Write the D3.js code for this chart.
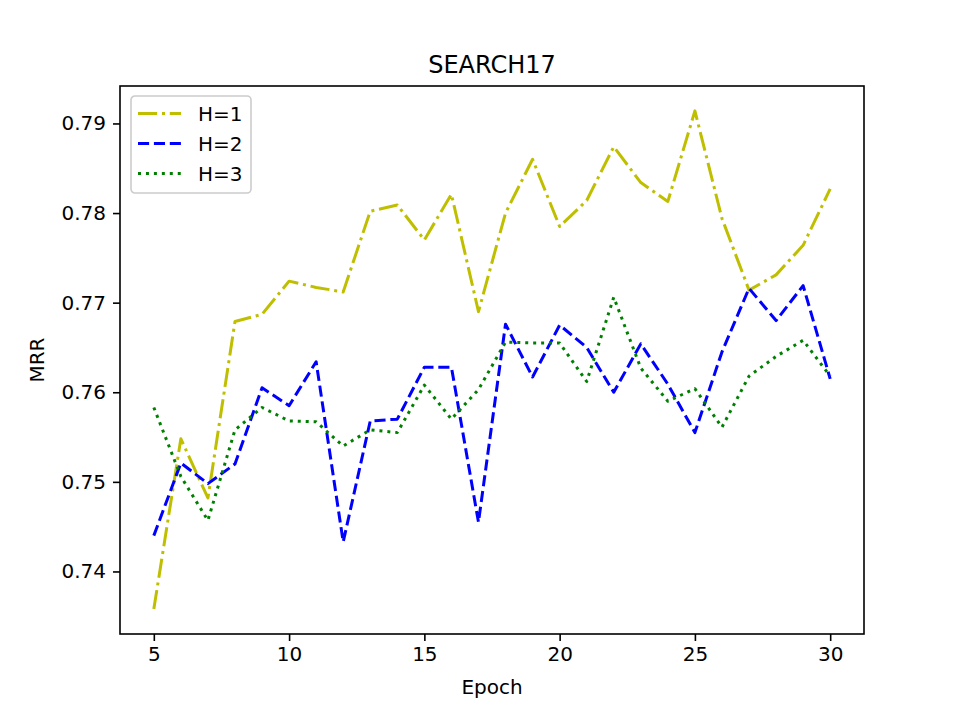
<!DOCTYPE html>
<html lang="en">

<head>
    <meta charset="UTF-8">
    <style type="text/css">
        body {
            margin: 0;
            background: white;
        }

        svg text {
            font-family: "DejaVu Sans", sans-serif;
            fill: black;
        }

        .axis path {
            display: none;
        }

        .axis line {
            stroke: black;
            stroke-width: 1.6px;
        }

        .axis text {
            font-size: 20px;
        }

        .series {
            fill: none;
            stroke-width: 3px;
            stroke-linecap: butt;
            stroke-linejoin: round;
        }
    </style>
</head>

<body>
    <div class="main"></div>

    <script src="https://cdn.jsdelivr.net/npm/d3@7"></script>
    <script type="text/javascript">

        // values
        var epochs = [5, 6, 7, 8, 9, 10, 11, 12, 13, 14, 15, 16, 17, 18, 19, 20, 21, 22, 23, 24, 25, 26, 27, 28, 29, 30];

        var h1 = [0.7358, 0.7548, 0.7482, 0.7679, 0.7687, 0.7724, 0.7717, 0.7712, 0.7802, 0.7809, 0.7770, 0.7821, 0.7690,
            0.7800, 0.7860, 0.7785, 0.7814, 0.7874, 0.7834, 0.7813, 0.7914, 0.7794, 0.7714, 0.7731, 0.7764, 0.7827];
        var h2 = [0.7440, 0.7521, 0.7498, 0.7520, 0.7605, 0.7585, 0.7634, 0.7433, 0.7568, 0.7570, 0.7628, 0.7628, 0.7455,
            0.7676, 0.7617, 0.7675, 0.7650, 0.7600, 0.7654, 0.7609, 0.7555, 0.7645, 0.7716, 0.7680, 0.7719, 0.7615];
        var h3 = [0.7583, 0.7506, 0.7457, 0.7558, 0.7583, 0.7568, 0.7567, 0.7540, 0.7558, 0.7555, 0.7608, 0.7570, 0.7603,
            0.7656, 0.7655, 0.7655, 0.7612, 0.7706, 0.7627, 0.7590, 0.7604, 0.7561, 0.7618, 0.7640, 0.7658, 0.7618];

        var seriesNames = ["H=1", "H=2", "H=3"];
        var seriesColors = ["#bfbf00", "#0000ff", "#008000"];
        var seriesDashes = ["19.2,4.8,3,4.8", "11.1,4.8", "3,4.95"];

        var xTicks = [5, 10, 15, 20, 25, 30];
        var yTicks = [0.74, 0.75, 0.76, 0.77, 0.78, 0.79];

        var margin = { top: 86, right: 96, bottom: 80, left: 120 },
            fullWidth = 960,
            fullHeight = 714,
            width = fullWidth - margin.left - margin.right,
            height = fullHeight - margin.top - margin.bottom;

        var series = [h1, h2, h3].map(function (vals, i) {
            return {
                name: seriesNames[i],
                color: seriesColors[i],
                dash: seriesDashes[i],
                points: d3.zip(epochs, vals)
            };
        });

        // matplotlib style 5% padding around data
        var xExt = d3.extent(epochs),
            allY = h1.concat(h2, h3),
            yExt = d3.extent(allY),
            xPad = (xExt[1] - xExt[0]) * 0.05,
            yPad = (yExt[1] - yExt[0]) * 0.05;

        var x = d3.scaleLinear()
            .domain([xExt[0] - xPad, xExt[1] + xPad])
            .range([0, width]);

        var y = d3.scaleLinear()
            .domain([yExt[0] - yPad, yExt[1] + yPad])
            .range([height, 0]);

        var svgRoot = d3.select(".main").append("svg")
            .attr("width", fullWidth)
            .attr("height", fullHeight);

        var svg = svgRoot.append("g")
            .attr("transform", "translate(" + margin.left + "," + margin.top + ")");

        svg.append("clipPath")
            .attr("id", "plotClip")
            .append("rect")
            .attr("width", width)
            .attr("height", height);

        var line = d3.line()
            .x(function (d) { return x(d[0]); })
            .y(function (d) { return y(d[1]); });

        svg.append("g")
            .attr("clip-path", "url(#plotClip)")
            .selectAll(".series")
            .data(series)
            .enter().append("path")
            .attr("class", "series")
            .attr("d", function (d) { return line(d.points); })
            .style("stroke", function (d) { return d.color; })
            .style("stroke-dasharray", function (d) { return d.dash; });

        svg.append("g")
            .attr("class", "axis")
            .attr("transform", "translate(0," + height + ")")
            .call(d3.axisBottom(x).tickValues(xTicks).tickSize(7).tickPadding(6).tickFormat(d3.format("d")));

        svg.append("g")
            .attr("class", "axis")
            .call(d3.axisLeft(y).tickValues(yTicks).tickSize(7).tickPadding(7).tickFormat(d3.format(".2f")));

        // frame
        svg.append("rect")
            .attr("width", width)
            .attr("height", height)
            .style("fill", "none")
            .style("stroke", "black")
            .style("stroke-width", 1.6);

        // title and labels
        svg.append("text")
            .attr("x", width / 2)
            .attr("y", -13)
            .attr("text-anchor", "middle")
            .style("font-size", "24px")
            .text("SEARCH17");

        svg.append("text")
            .attr("x", width / 2)
            .attr("y", height + 60)
            .attr("text-anchor", "middle")
            .style("font-size", "20px")
            .text("Epoch");

        svg.append("text")
            .attr("transform", "translate(-76," + (height / 2) + ") rotate(-90)")
            .attr("text-anchor", "middle")
            .style("font-size", "20px")
            .text("MRR");

        // legend
        var legend = svg.append("g")
            .attr("transform", "translate(11,10)");

        legend.append("rect")
            .attr("width", 120)
            .attr("height", 97)
            .attr("rx", 4)
            .style("fill", "white")
            .style("fill-opacity", 0.8)
            .style("stroke", "#cccccc")
            .style("stroke-width", 1.6);

        var item = legend.selectAll(".item")
            .data(series)
            .enter().append("g")
            .attr("class", "item")
            .attr("transform", function (d, i) { return "translate(0," + (17.5 + i * 30) + ")"; });

        item.append("line")
            .attr("x1", 7)
            .attr("x2", 50)
            .style("stroke", function (d) { return d.color; })
            .style("stroke-width", 3)
            .style("stroke-dasharray", function (d) { return d.dash; });

        item.append("text")
            .attr("x", 67)
            .attr("dy", "0.36em")
            .style("font-size", "20px")
            .text(function (d) { return d.name; });

    </script>
</body>

</html>
